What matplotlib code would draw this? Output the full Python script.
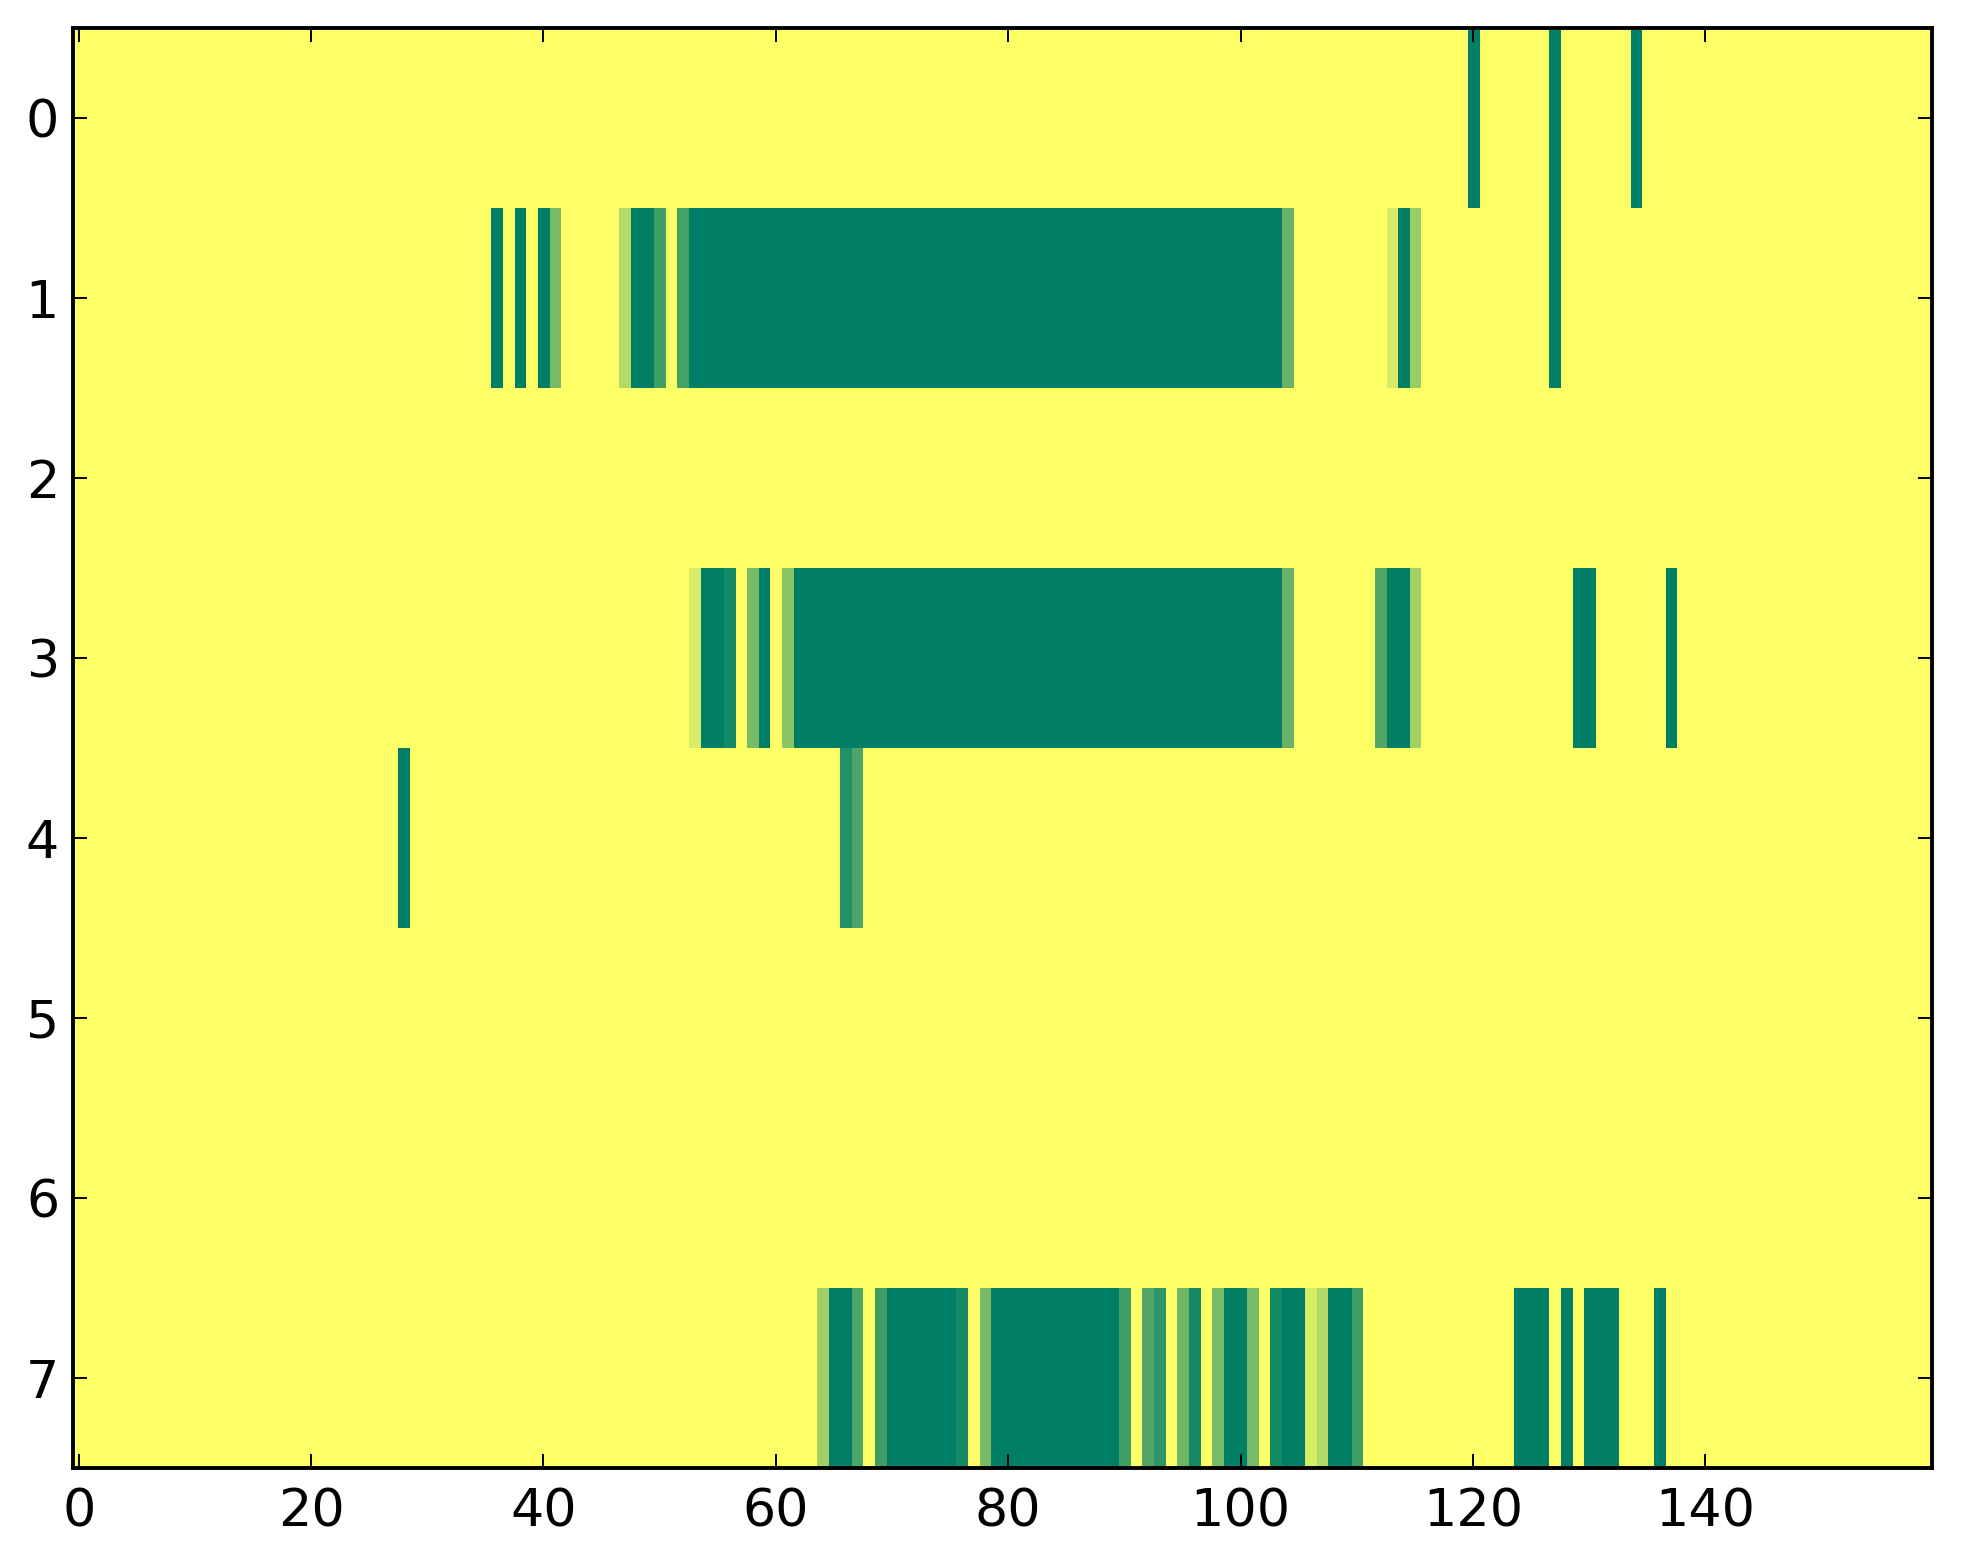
import numpy as np
import matplotlib
matplotlib.use("Agg")
import matplotlib.pyplot as plt

n_rows = 8
n_cols = 160

# (first_col, last_col, value) segments per row; all other cells are 0
row0 = [(120, 120, 1.0), (127, 127, 1.0), (134, 134, 1.0)]
row1 = [(36, 36, 1.0), (38, 38, 1.0), (40, 40, 1.0), (41, 41, 0.53),
        (47, 47, 0.30), (48, 49, 1.0), (50, 50, 0.76), (52, 52, 0.73),
        (53, 103, 1.0), (104, 104, 0.60), (113, 113, 0.16), (114, 114, 1.0),
        (115, 115, 0.40), (127, 127, 1.0)]
row2 = []
row3 = [(53, 53, 0.16), (54, 55, 1.0), (56, 56, 0.92), (58, 58, 0.53),
        (59, 59, 1.0), (61, 61, 0.45), (62, 103, 1.0), (104, 104, 0.60),
        (112, 112, 0.68), (113, 114, 1.0), (115, 115, 0.37), (129, 130, 1.0),
        (137, 137, 1.0)]
row4 = [(28, 28, 1.0), (66, 66, 0.86), (67, 67, 0.70)]
row5 = []
row6 = []
row7 = [(64, 64, 0.37), (65, 66, 1.0), (67, 67, 0.70), (69, 69, 0.76),
        (70, 75, 1.0), (76, 76, 0.92), (78, 78, 0.53), (79, 89, 1.0),
        (90, 90, 0.76), (92, 92, 0.68), (93, 93, 0.82), (95, 95, 0.57),
        (96, 96, 0.92), (98, 98, 0.53), (99, 100, 1.0), (101, 101, 0.53),
        (103, 103, 0.92), (104, 105, 1.0), (106, 106, 0.16), (107, 107, 0.30),
        (108, 109, 1.0), (110, 110, 0.76), (124, 126, 1.0), (128, 128, 1.0),
        (130, 132, 1.0), (136, 136, 1.0)]

rows = [row0, row1, row2, row3, row4, row5, row6, row7]

grid = np.zeros((n_rows, n_cols))
for r, segs in enumerate(rows):
    for a, b, v in segs:
        grid[r, a:b + 1] = v

dpi = 200
fig = plt.figure(figsize=(1963 / dpi, 1564 / dpi), dpi=dpi)
ax = fig.add_axes([72.9 / 1963, 1 - 1468 / 1564, (1932 - 72.9) / 1963, (1468 - 28) / 1564])
ax.imshow(grid, cmap="summer_r", vmin=0, vmax=1, aspect="auto",
          interpolation="nearest")

ax.set_xticks(np.arange(0, 141, 20))
ax.set_yticks(np.arange(0, 8))
ax.tick_params(direction="in", length=5, width=0.7, top=True, right=True,
               labelsize=18.8)
ax.tick_params(axis="x", pad=7)
ax.tick_params(axis="y", pad=5)
for s in ax.spines.values():
    s.set_linewidth(1.4)

fig.savefig("out.png", dpi=dpi)
